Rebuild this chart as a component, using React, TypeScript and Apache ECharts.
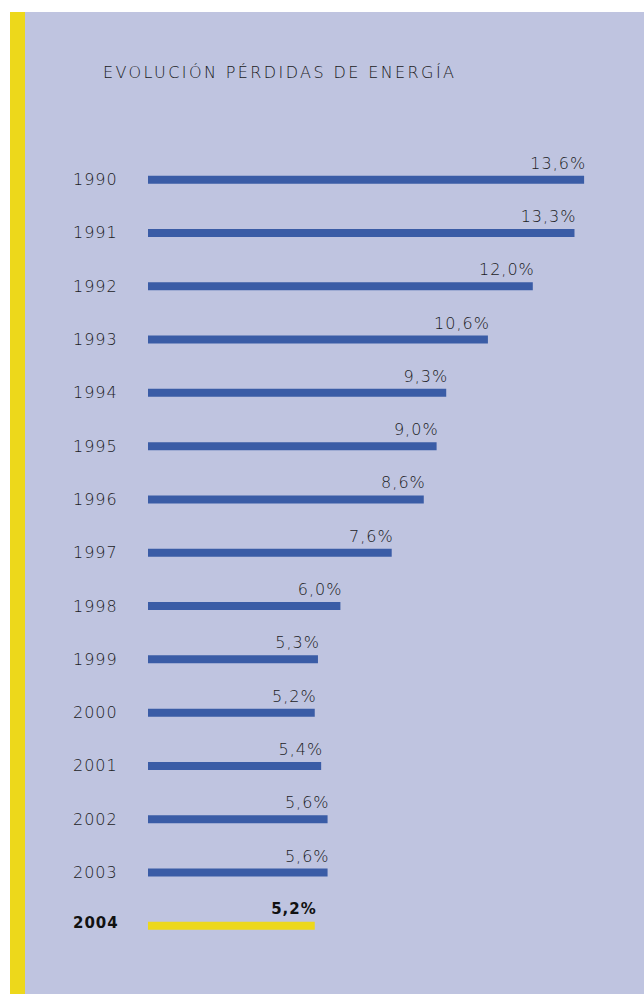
import React, { useEffect, useRef } from "react";
import * as echarts from "echarts";

const years = ["1990","1991","1992","1993","1994","1995","1996","1997","1998","1999","2000","2001","2002","2003","2004"];
const values = [13.6, 13.3, 12.0, 10.6, 9.3, 9.0, 8.6, 7.6, 6.0, 5.3, 5.2, 5.4, 5.6, 5.6, 5.2];
const highlightYear = "2004";
const title = "EVOLUCIÓN PÉRDIDAS DE ENERGÍA";

const PANEL = "#BFC4E0";
const YELLOW = "#EDD81B";
const BLUE = "#3A5CA6";
const TEXT = "#1c1c1e";
const TITLE_COLOR = "#1a1a1c";
const FONT = "'DejaVu Sans ExtraLight', 'DejaVu Sans Light', 'DejaVu Sans', sans-serif";
const BOLD_FONT = "'DejaVu Sans', sans-serif";

const fmt = (v: number) => v.toFixed(1).replace(".", ",") + "%";

export default function App() {
  const ref = useRef<HTMLDivElement>(null);
  useEffect(() => {
    if (!ref.current) return;
    const chart = echarts.init(ref.current, null, { renderer: "svg" });
    chart.setOption({
      animation: false,
      backgroundColor: "#ffffff",
      graphic: [
        { type: "rect", z: 0, silent: true, shape: { x: 10, y: 12, width: 634, height: 982 }, style: { fill: PANEL } },
        { type: "rect", z: 1, silent: true, shape: { x: 10, y: 12, width: 15, height: 982 }, style: { fill: YELLOW } },
        {
          type: "text", z: 2, silent: true, x: 103, y: 72,
          style: { text: title, fill: TITLE_COLOR, fontSize: 16, fontFamily: FONT, fontWeight: 200, verticalAlign: "middle", align: "left" },
        },
      ],
      grid: { left: 148, top: 153, height: 799.5, width: 481, containLabel: false },
      xAxis: { type: "value", min: 0, max: 15, show: false },
      yAxis: {
        type: "category",
        data: years,
        inverse: true,
        axisLine: { show: false },
        axisTick: { show: false },
        splitLine: { show: false },
        axisLabel: {
          margin: 75,
          align: "left",
          fontSize: 16,
          fontFamily: FONT,
          fontWeight: 200,
          color: TEXT,
          formatter: (v: string) => (v === highlightYear ? `{b|${v}}` : v),
          rich: { b: { fontSize: 15, fontWeight: "bold", color: "#111111", fontFamily: BOLD_FONT, padding: [0, 0, 5, 0] } },
        },
      },
      series: [
        {
          type: "bar",
          barWidth: 8,
          silent: true,
          data: values.map((v, i) => ({
            value: v,
            itemStyle: { color: years[i] === highlightYear ? YELLOW : BLUE },
            label: years[i] === highlightYear ? { fontWeight: "bold", color: "#111111", fontSize: 15, fontFamily: BOLD_FONT } : undefined,
          })),
          label: {
            show: true,
            position: ["100%", -12.5],
            align: "right",
            verticalAlign: "middle",
            offset: [2, 0],
            fontSize: 16,
            fontFamily: FONT,
            fontWeight: 200,
            color: TEXT,
            formatter: (p: any) => fmt(p.value),
          },
        },
      ],
    });
    return () => chart.dispose();
  }, []);
  return (
    <>
      <style>{`
        .chartbox text { letter-spacing: 1px; }
        .chartbox text[fill="${TITLE_COLOR}"] { letter-spacing: 2.4px; }
      `}</style>
      <div
        ref={ref}
        className="chartbox"
        style={{ position: "absolute", left: 0, top: 0, width: 644, height: 994 }}
      />
    </>
  );
}
